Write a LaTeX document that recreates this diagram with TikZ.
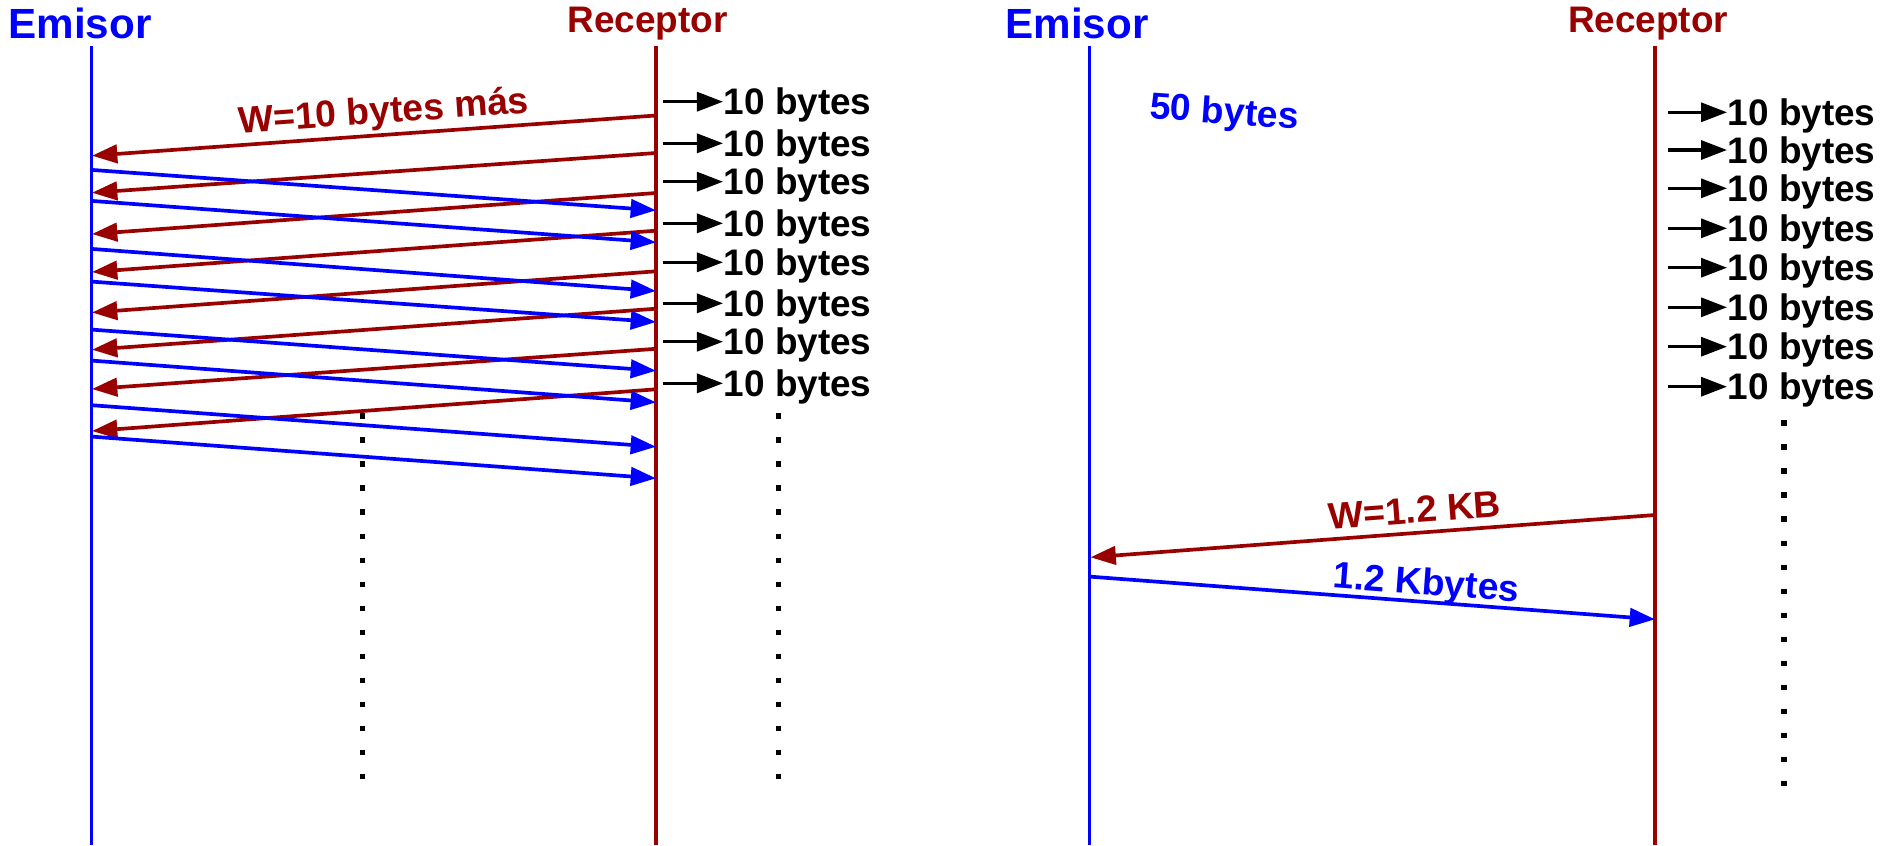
\documentclass[tikz,border=0pt]{standalone}
\usepackage{fontspec}
\setmainfont{Liberation Sans}
\usepackage{xcolor}
\usepackage{tikz}
\usetikzlibrary{arrows.meta}

\definecolor{recred}{RGB}{153,0,0}

\begin{document}
\begin{tikzpicture}[x=0.01cm, y=-0.01cm,
        emline/.style={blue, line width=1pt},
        recline/.style={recred, line width=1pt},
        datarrow/.style={blue, line width=1.05pt, -{Triangle[length=7.2pt, width=5.2pt]}},
        ackarrow/.style={recred, line width=1.05pt, -{Triangle[length=7.2pt, width=5.2pt]}},
        outarrow/.style={black, line width=0.95pt, -{Triangle[length=7.4pt, width=5.4pt]}},
        bytelbl/.style={anchor=west, inner sep=0pt, text height=7.5pt, text depth=0pt, font=\fontsize{10.5}{12}\selectfont\bfseries},
        head/.style={anchor=base, inner sep=0pt, font=\fontsize{12}{14}\selectfont\bfseries},
        rechead/.style={head, recred, font=\fontsize{10.5}{12}\selectfont\bfseries},
        arrlbl/.style={sloped, anchor=base, inner sep=0pt, font=\fontsize{10.6}{12}\selectfont\bfseries},
        dotcol/.style={line width=1.5pt, dash pattern=on 1.5pt off 5.33pt}]

        \useasboundingbox (0,0) rectangle (1883,845);

        \node[head, blue] (em1) at (80,38.3) {Emisor};
        \node[rechead] (rc1) at (647.5,32.3) {Receptor};
        \node[head, blue] (em2) at (1077,38) {Emisor};
        \node[rechead] (rc2) at (1648,32.3) {Receptor};

        \coordinate (e1t) at (91.5,45.5);
        \coordinate (e1b) at (91.5,845);
        \coordinate (r1t) at (656,45.5);
        \coordinate (r1b) at (656,845);
        \coordinate (e2t) at (1089.5,45.5);
        \coordinate (e2b) at (1089.5,845);
        \coordinate (r2t) at (1655,45.5);
        \coordinate (r2b) at (1655,845);

        \draw[emline] (e1t) -- (e1b);
        \draw[recline] (r1t) -- (r1b);
        \draw[emline] (e2t) -- (e2b);
        \draw[recline] (r2t) -- (r2b);

        \coordinate (w1r) at (656,115.5);
        \coordinate (w1e) at (92,155.7);
        \coordinate (w2r) at (656,153);
        \coordinate (w2e) at (92,192.7);
        \coordinate (w3r) at (656,193);
        \coordinate (w3e) at (92,234);
        \coordinate (w4r) at (656,230.7);
        \coordinate (w4e) at (92,272);
        \coordinate (w5r) at (656,271.3);
        \coordinate (w5e) at (92,312.5);
        \coordinate (w6r) at (656,308.7);
        \coordinate (w6e) at (92,349.7);
        \coordinate (w7r) at (656,348.8);
        \coordinate (w7e) at (92,389);
        \coordinate (w8r) at (656,389.3);
        \coordinate (w8e) at (92,431);

        \draw[ackarrow] (w1r) -- node[arrlbl, pos=0.48] {\raisebox{3.4pt}{W=10 bytes más}} (w1e);
        \draw[ackarrow] (w2r) -- (w2e);
        \draw[ackarrow] (w3r) -- (w3e);
        \draw[ackarrow] (w4r) -- (w4e);
        \draw[ackarrow] (w5r) -- (w5e);
        \draw[ackarrow] (w6r) -- (w6e);
        \draw[ackarrow] (w7r) -- (w7e);
        \draw[ackarrow] (w8r) -- (w8e);

        \coordinate (d1e) at (93,170);
        \coordinate (d1r) at (656,210.3);
        \coordinate (d2e) at (93,201);
        \coordinate (d2r) at (656,242.3);
        \coordinate (d3e) at (93,249);
        \coordinate (d3r) at (656,291);
        \coordinate (d4e) at (93,281.7);
        \coordinate (d4r) at (656,322);
        \coordinate (d5e) at (93,329.7);
        \coordinate (d5r) at (656,370.7);
        \coordinate (d6e) at (93,360.7);
        \coordinate (d6r) at (656,402.3);
        \coordinate (d7e) at (93,405.3);
        \coordinate (d7r) at (656,446.7);
        \coordinate (d8e) at (93,436.7);
        \coordinate (d8r) at (656,478.3);

        \draw[datarrow] (d1e) -- (d1r);
        \draw[datarrow] (d2e) -- (d2r);
        \draw[datarrow] (d3e) -- (d3r);
        \draw[datarrow] (d4e) -- (d4r);
        \draw[datarrow] (d5e) -- (d5r);
        \draw[datarrow] (d6e) -- (d6r);
        \draw[datarrow] (d7e) -- (d7r);
        \draw[datarrow] (d8e) -- (d8r);

        \coordinate (o1) at (663,101.7);
        \coordinate (o2) at (663,143.3);
        \coordinate (o3) at (663,181.7);
        \coordinate (o4) at (663,223.3);
        \coordinate (o5) at (663,262.3);
        \coordinate (o6) at (663,303.3);
        \coordinate (o7) at (663,341.7);
        \coordinate (o8) at (663,383.3);

        \node[bytelbl] (n1) at (723,101.7) {10 bytes};
        \node[bytelbl] (n2) at (723,143.3) {10 bytes};
        \node[bytelbl] (n3) at (723,181.7) {10 bytes};
        \node[bytelbl] (n4) at (723,223.3) {10 bytes};
        \node[bytelbl] (n5) at (723,262.3) {10 bytes};
        \node[bytelbl] (n6) at (723,303.3) {10 bytes};
        \node[bytelbl] (n7) at (723,341.7) {10 bytes};
        \node[bytelbl] (n8) at (723,383.3) {10 bytes};

        \draw[outarrow] (o1) -- (n1);
        \draw[outarrow] (o2) -- (n2);
        \draw[outarrow] (o3) -- (n3);
        \draw[outarrow] (o4) -- (n4);
        \draw[outarrow] (o5) -- (n5);
        \draw[outarrow] (o6) -- (n6);
        \draw[outarrow] (o7) -- (n7);
        \draw[outarrow] (o8) -- (n8);

        \coordinate (g1a) at (362.3,413.4);
        \coordinate (g1b) at (362.3,779);
        \coordinate (g2a) at (778.3,413.4);
        \coordinate (g2b) at (778.3,779);
        \draw[dotcol] (g1a) -- (g1b);
        \draw[dotcol] (g2a) -- (g2b);

        \node[blue, rotate=-4, anchor=base, inner sep=0pt, font=\fontsize{10.6}{12}\selectfont\bfseries] (fifty) at (1223.5,123.7) {50 bytes};

        \coordinate (p1) at (1668,112.3);
        \coordinate (p2) at (1668,150);
        \coordinate (p3) at (1668,188.3);
        \coordinate (p4) at (1668,228.3);
        \coordinate (p5) at (1668,267.7);
        \coordinate (p6) at (1668,307.3);
        \coordinate (p7) at (1668,346.7);
        \coordinate (p8) at (1668,386.7);

        \node[bytelbl] (q1) at (1727,112.3) {10 bytes};
        \node[bytelbl] (q2) at (1727,150) {10 bytes};
        \node[bytelbl] (q3) at (1727,188.3) {10 bytes};
        \node[bytelbl] (q4) at (1727,228.3) {10 bytes};
        \node[bytelbl] (q5) at (1727,267.7) {10 bytes};
        \node[bytelbl] (q6) at (1727,307.3) {10 bytes};
        \node[bytelbl] (q7) at (1727,346.7) {10 bytes};
        \node[bytelbl] (q8) at (1727,386.7) {10 bytes};

        \draw[outarrow] (p1) -- (q1);
        \draw[outarrow] (p2) -- (q2);
        \draw[outarrow] (p3) -- (q3);
        \draw[outarrow] (p4) -- (q4);
        \draw[outarrow] (p5) -- (q5);
        \draw[outarrow] (p6) -- (q6);
        \draw[outarrow] (p7) -- (q7);
        \draw[outarrow] (p8) -- (q8);

        \coordinate (g3a) at (1784,420.4);
        \coordinate (g3b) at (1784,786);
        \draw[dotcol] (g3a) -- (g3b);

        \coordinate (wkr) at (1655,515);
        \coordinate (wke) at (1090.5,557.3);
        \coordinate (kbe) at (1091,576.7);
        \coordinate (kbr) at (1655,619.3);

        \draw[ackarrow] (wkr) -- node[arrlbl, pos=0.423] {\raisebox{2.85pt}{W=1.2 KB}} (wke);
        \draw[datarrow] (kbe) -- node[arrlbl, pos=0.592] {\raisebox{2pt}{1.2 Kbytes}} (kbr);
    \end{tikzpicture}
\end{document}
